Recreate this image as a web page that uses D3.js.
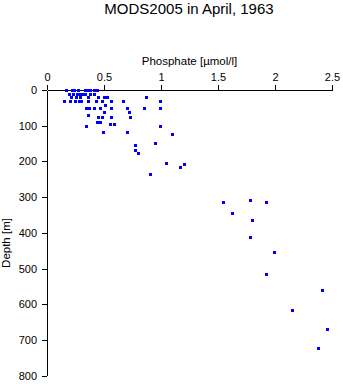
<!DOCTYPE html>
<html><head><meta charset="utf-8">
<script src="https://cdn.jsdelivr.net/npm/d3@7"></script>
<style>
body{margin:0;background:#fff;}
text{font-family:"Liberation Sans",Arial,Helvetica,sans-serif;fill:#000;}
</style></head>
<body>
<svg id="c" width="343" height="384"></svg>
<script>
const title = "MODS2005 in April, 1963";
const xTitle = "Phosphate [\u00b5mol/l]";
const yTitle = "Depth [m]";
const xTicks = [0, 0.5, 1, 1.5, 2, 2.5];
const yTicks = [0, 100, 200, 300, 400, 500, 600, 700, 800];

const phosphate = [
  0.167,0.216,0.24,0.27,0.33,0.35,0.377,0.415,0.44,
  0.19,0.23,0.26,0.29,0.32,0.335,0.375,0.415,
  0.21,0.25,0.29,0.36,0.45,0.50,0.53,0.87,
  0.15,0.205,0.245,0.28,0.30,0.357,0.43,0.48,0.565,0.67,0.99,
  0.51,
  0.34,0.365,0.415,0.465,0.56,0.705,0.855,0.99,
  0.50,0.72,
  0.36,
  0.45,0.48,0.565,0.73,
  0.435,0.465,
  0.55,0.59,
  0.345,0.99,
  0.495,0.705,
  1.10,
  0.945,0.775,0.775,0.80,1.045,1.20,1.17,0.905,
  1.54,1.78,1.92,1.62,1.80,1.78,1.99,1.92,
  2.41,2.15,2.46,2.38
];
const depth = [
  0,0,0,0,0,0,0,0,0,
  12,12,12,12,12,12,12,12,
  20,20,20,20,20,20,20,21,
  32,32,32,32,32,32,32,32,32,32,32,
  42,
  51,51,51,51,51,51,51,51,
  61,61,
  71,
  77,77,77,77,
  90,90,
  96,96,
  102,102,
  118,118,
  124,
  149,155,169,177,205,208,217,236,
  315,309,314,345,365,413,453,516,
  561,617,669,724
];

const svg = d3.select("#c");
const x = d3.scaleLinear().domain([0, 2.5]).range([47, 332]);
const y = d3.scaleLinear().domain([0, 800]).range([90, 375.6]);

svg.append("text").attr("x", 189).attr("y", 13.5).attr("text-anchor", "middle")
  .attr("font-size", 15).text(title);

const xa = svg.append("g").attr("transform", "translate(0,90)")
  .call(d3.axisTop(x).tickValues(xTicks).tickFormat(d3.format("")).tickSize(5).tickSizeOuter(0).tickPadding(4));
const ya = svg.append("g").attr("transform", "translate(47,0)")
  .call(d3.axisLeft(y).tickValues(yTicks).tickFormat(d3.format("")).tickSize(5).tickSizeOuter(0).tickPadding(5));
[xa, ya].forEach(a => {
  a.selectAll("path,line").attr("stroke", "#000").attr("stroke-width", 1).attr("shape-rendering", "crispEdges");
  a.selectAll("text").attr("font-size", 11).attr("font-family", '"Liberation Sans",Arial,sans-serif');
});

svg.append("text").attr("x", 189.5).attr("y", 65).attr("text-anchor", "middle")
  .attr("font-size", 11.5).text(xTitle);
svg.append("text").attr("transform", "translate(10,243) rotate(-90)").attr("text-anchor", "middle")
  .attr("font-size", 11.5).text(yTitle);

svg.append("g").selectAll("rect").data(d3.range(phosphate.length)).join("rect")
  .attr("x", i => Math.round(x(phosphate[i])) - 1.5)
  .attr("y", i => Math.round(y(depth[i])) - 1.5)
  .attr("width", 3).attr("height", 3)
  .attr("fill", "#0000ff").attr("shape-rendering", "crispEdges");
</script>
</body></html>
